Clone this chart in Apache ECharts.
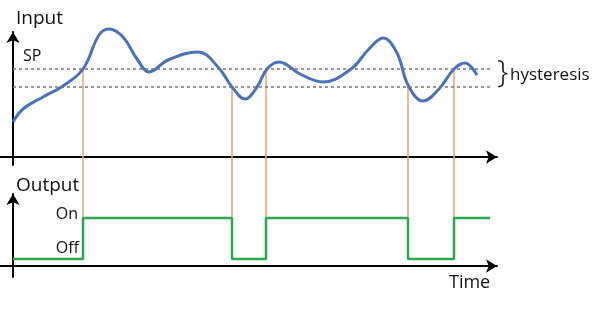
<!DOCTYPE html>
<html><head><meta charset="utf-8">
<script src="https://cdn.jsdelivr.net/npm/echarts@6/dist/echarts.min.js"></script>
<style>html,body{margin:0;padding:0;background:#fff}#c{width:600px;height:309px}</style>
</head><body><div id="c"></div>
<script>
// ---- data (time units along the axis, input in arbitrary units) ----
var inputTime  = [0, 10, 30, 50, 70, 86, 96, 110, 124, 136, 155, 185, 205, 219, 232, 244, 254, 266, 287, 310, 338, 356, 370, 384, 395, 410, 426, 441, 452, 464];
var inputValue = [35, 48, 60, 71, 88, 122, 128, 120, 98, 85, 97, 105, 90, 70, 58, 70, 88, 95, 83, 75, 88, 108, 119, 104, 72, 56, 68, 88, 94, 82];
var setPoint = 88;
var lowerLimit = 70;
var switchTime  = [70, 219, 253, 395, 441];
var switchInput = [88, 70, 88, 70, 88];
var outputTime  = [0, 70, 219, 253, 395, 441, 477];
var outputState = ['off', 'on', 'off', 'on', 'off', 'on', 'on'];
var levelOff = 7, levelOn = 48;
var timeEnd = 477;

var font = '"Open Sans", "Noto Sans", sans-serif';
var chart = echarts.init(document.getElementById('c'));

var inputData = inputTime.map(function (t, i) { return [t, inputValue[i]]; });
var outputData = outputTime.map(function (t, i) { return [t, outputState[i] === 'on' ? levelOn : levelOff]; });
var switchData = switchTime.map(function (t, i) { return [t, switchInput[i]]; });

function axisLineStyle() {
  return { show: true, onZero: true, symbol: ['none', 'arrow'], symbolSize: [10, 11],
           lineStyle: { color: '#000', width: 2 } };
}
var hidden = { axisTick: { show: false }, axisLabel: { show: false }, splitLine: { show: false } };

chart.setOption({
  animation: false,
  grid: [
    { left: 0, width: 497, top: 32, height: 133 },
    { left: 0, width: 497, top: 194, height: 83 }
  ],
  xAxis: [
    Object.assign({ type: 'value', gridIndex: 0, min: -13, max: 484, axisLine: axisLineStyle() }, hidden),
    Object.assign({ type: 'value', gridIndex: 1, min: -13, max: 484, axisLine: axisLineStyle() }, hidden)
  ],
  yAxis: [
    Object.assign({ type: 'value', gridIndex: 0, min: -8, max: 125, axisLine: axisLineStyle() }, hidden),
    Object.assign({ type: 'value', gridIndex: 1, min: -11, max: 72, axisLine: axisLineStyle() }, hidden)
  ],
  series: [
    {
      type: 'custom', xAxisIndex: 0, yAxisIndex: 0, z: 1, clip: false,
      data: switchData,
      renderItem: function (params, api) {
        var t = api.value(0), v = api.value(1);
        var p1 = api.coord([t, v]);
        var p2 = chart.convertToPixel({ xAxisIndex: 1, yAxisIndex: 1 }, [t, levelOn]);
        return { type: 'line', shape: { x1: p1[0], y1: p1[1], x2: p1[0], y2: p2[1] },
                 style: { stroke: '#eba46a', lineWidth: 1.5 } };
      }
    },
    {
      type: 'line', xAxisIndex: 0, yAxisIndex: 0, z: 3, clip: false,
      data: inputData, smooth: 0.4, showSymbol: false,
      lineStyle: { color: '#4a72b8', width: 3 },
      markLine: {
        silent: true, symbol: ['none', 'none'], label: { show: false },
        lineStyle: { color: '#777', type: [3, 3], width: 1.5 },
        data: [
          [{ coord: [0, setPoint] }, { coord: [timeEnd, setPoint] }],
          [{ coord: [0, lowerLimit] }, { coord: [timeEnd, lowerLimit] }]
        ]
      }
    },
    {
      type: 'line', xAxisIndex: 1, yAxisIndex: 1, z: 3,
      data: outputData, step: 'end', showSymbol: false,
      lineStyle: { color: '#2aa84e', width: 2.5 }
    }
  ],
  graphic: [
    { type: 'text', left: 16, top: 9, style: { text: 'Input', font: '19px ' + font, fill: '#111' } },
    { type: 'text', left: 23, top: 48, style: { text: 'SP', font: '16px ' + font, fill: '#111' } },
    { type: 'text', left: 497, top: 57, style: { text: '}', font: '300 32px ' + font, fill: '#111' } },
    { type: 'text', left: 510, top: 67, style: { text: 'hysteresis', font: '17px ' + font, fill: '#111' } },
    { type: 'text', left: 16, top: 176, style: { text: 'Output', font: '19px ' + font, fill: '#111' } },
    { type: 'text', right: 522, top: 206, style: { text: 'On', font: '16px ' + font, fill: '#111' } },
    { type: 'text', right: 521, top: 240, style: { text: 'Off', font: '16px ' + font, fill: '#111' } },
    { type: 'text', left: 449, top: 274, style: { text: 'Time', font: '18px ' + font, fill: '#111' } }
  ]
});
</script></body></html>
